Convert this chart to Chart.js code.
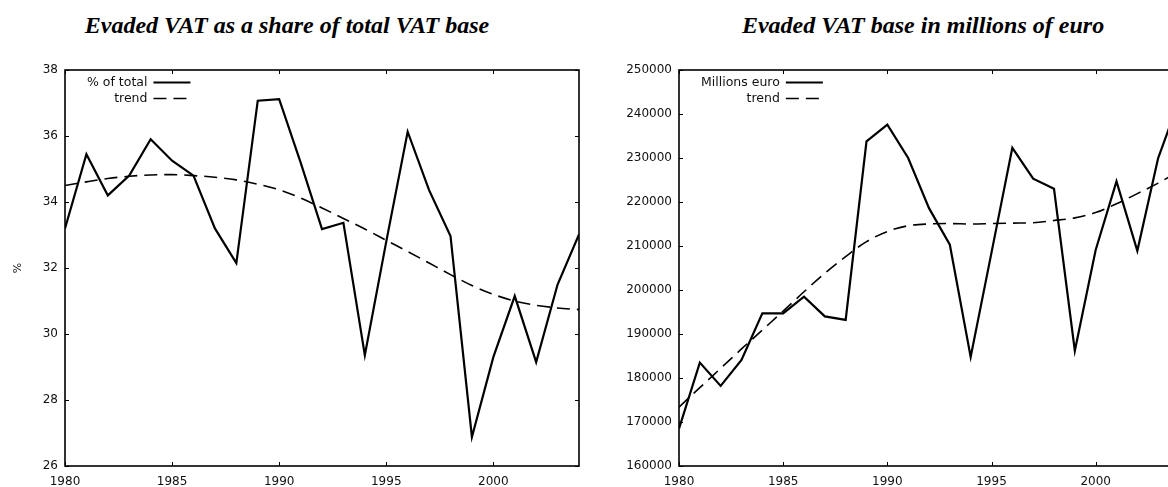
<!DOCTYPE html>
<html>
<head>
<meta charset="utf-8">
<script src="https://cdn.jsdelivr.net/npm/chart.js@4.4.0/dist/chart.umd.min.js"></script>
<style>
html, body { margin: 0; padding: 0; background: #fff; overflow: hidden; width: 1168px; height: 487px; }
.box { position: absolute; top: 0; height: 487px; width: 600px; }
.ttl { position: absolute; top: 12px; font: italic bold 24px "Liberation Serif", "Times New Roman", serif; white-space: nowrap; transform: translateX(-50%); color: #000; }
</style>
</head>
<body>
<div class="ttl" style="left:287px">Evaded VAT as a share of total VAT base</div>
<div class="ttl" style="left:923px">Evaded VAT base in millions of euro</div>
<div class="box" style="left:0"><canvas id="chartShare"></canvas></div>
<div class="box" style="left:600px"><canvas id="chartMillions"></canvas></div>
<script>
// years on the x axis
var years = [1980, 1981, 1982, 1983, 1984, 1985, 1986, 1987, 1988, 1989, 1990, 1991, 1992,
             1993, 1994, 1995, 1996, 1997, 1998, 1999, 2000, 2001, 2002, 2003, 2004]

// left panel: % of total VAT base
var shareValues = [33.2, 35.45, 34.2, 34.8, 35.9, 35.25, 34.8, 33.2, 32.15, 37.07, 37.12, 35.2, 33.18,
                   33.37, 29.36, 32.8, 36.13, 34.36, 32.97, 26.88, 29.3, 31.15, 29.15, 31.5, 33.02]
var shareTrend = [34.5, 34.61, 34.71, 34.78, 34.82, 34.83, 34.8, 34.75, 34.67, 34.54, 34.37, 34.12, 33.82,
                  33.5, 33.18, 32.84, 32.5, 32.15, 31.8, 31.47, 31.2, 31.0, 30.87, 30.79, 30.74]

// right panel: millions of euro
var millionsValues = [168500, 183500, 178200, 184100, 194700, 194700, 198500, 194000, 193200, 233800, 237600, 230000, 218600,
                      210300, 184800, 208500, 232300, 225300, 223000, 186200, 209100, 224700, 208900, 230000, 243000]
var millionsTrend = [173400, 177800, 182200, 186600, 190900, 195200, 199600, 203800, 207600, 211000, 213300, 214600, 215000,
                     215100, 215000, 215100, 215200, 215300, 215800, 216400, 217600, 219600, 221900, 224300, 227000]

var shareTicks = {min: 26, max: 38, step: 2}
var millionsTicks = {min: 160000, max: 250000, step: 10000}

var FONT = '"DejaVu Sans", Verdana, sans-serif'

function pairs(values){
    let out = []
    for (let i = 0; i < years.length; i++) {
        out.push({x: years[i], y: values[i]})
    }
    return out
}

// box round the plot, inward ticks on all four sides, and the gnuplot style key
var frame = {
    id: 'frame',
    afterDatasetsDraw(chart){
        const ctx = chart.ctx
        const a = chart.chartArea
        const x = chart.scales.x
        const y = chart.scales.y
        ctx.save()
        ctx.strokeStyle = '#000'
        ctx.lineWidth = 1
        ctx.beginPath()
        x.ticks.forEach(t => {
            let px = Math.round(x.getPixelForValue(t.value)) + 0.5
            ctx.moveTo(px, a.bottom); ctx.lineTo(px, a.bottom - 4)
            ctx.moveTo(px, a.top); ctx.lineTo(px, a.top + 4)
        })
        y.ticks.forEach(t => {
            let py = Math.round(y.getPixelForValue(t.value)) + 0.5
            ctx.moveTo(a.left, py); ctx.lineTo(a.left + 4, py)
            ctx.moveTo(a.right, py); ctx.lineTo(a.right - 4, py)
        })
        ctx.stroke()
        ctx.lineWidth = 1.6
        ctx.strokeRect(a.left, a.top, a.right - a.left, a.bottom - a.top)

        // key
        ctx.font = '12.5px ' + FONT
        ctx.fillStyle = '#111'
        ctx.textAlign = 'right'
        ctx.textBaseline = 'middle'
        let maxW = 0
        chart.data.datasets.forEach(ds => { maxW = Math.max(maxW, ctx.measureText(ds.label).width) })
        let textRight = a.left + maxW + 22
        chart.data.datasets.forEach((ds, i) => {
            let ly = a.top + 12.5 + i * 16
            ctx.fillText(ds.label, textRight, ly)
            ctx.beginPath()
            ctx.setLineDash(ds.borderDash || [])
            ctx.lineWidth = ds.borderWidth
            ctx.moveTo(textRight + 6, ly)
            ctx.lineTo(textRight + 43, ly)
            ctx.stroke()
        })
        ctx.restore()
    }
}

function makeChart(id, values, trend, label, ticks, yWidth, yTitle){
    var ctx = document.getElementById(id).getContext('2d')
    return new Chart(ctx, {
        type: 'line',
        data: {
            datasets: [{
                label: label,
                data: pairs(values),
                borderColor: '#000',
                borderWidth: 2.2,
                pointRadius: 0,
                tension: 0
            }, {
                label: 'trend',
                data: pairs(trend),
                borderColor: '#000',
                borderWidth: 1.6,
                borderDash: [13, 7],
                pointRadius: 0,
                tension: 0.4,
                cubicInterpolationMode: 'monotone'
            }]
        },
        options: {
            responsive: true,
            maintainAspectRatio: false,
            animation: false,
            layout: {padding: {top: 70, right: 21, left: 0, bottom: 0}},
            plugins: {legend: {display: false}, tooltip: {enabled: false}},
            scales: {
                x: {
                    type: 'linear',
                    min: 1980, max: 2004,
                    grid: {display: false, drawTicks: false},
                    border: {display: false},
                    ticks: {stepSize: 5, includeBounds: false, padding: 9, color: '#111',
                            font: {family: FONT, size: 12}, maxRotation: 0,
                            callback: v => String(v)},
                    afterFit: s => { s.height = 21 }
                },
                y: {
                    min: ticks.min, max: ticks.max,
                    grid: {display: false, drawTicks: false},
                    border: {display: false},
                    ticks: {stepSize: ticks.step, padding: 7, color: '#111',
                            font: {family: FONT, size: 12},
                            callback: v => String(v)},
                    title: {display: !!yTitle, text: yTitle || '', color: '#111',
                            font: {family: FONT, size: 11}, padding: {top: 12, bottom: 0}},
                    afterFit: s => { s.width = yWidth }
                }
            }
        },
        plugins: [frame]
    })
}

makeChart('chartShare', shareValues, shareTrend, '% of total', shareTicks, 65, '%')
makeChart('chartMillions', millionsValues, millionsTrend, 'Millions euro', millionsTicks, 79, '')
</script>
</body>
</html>
